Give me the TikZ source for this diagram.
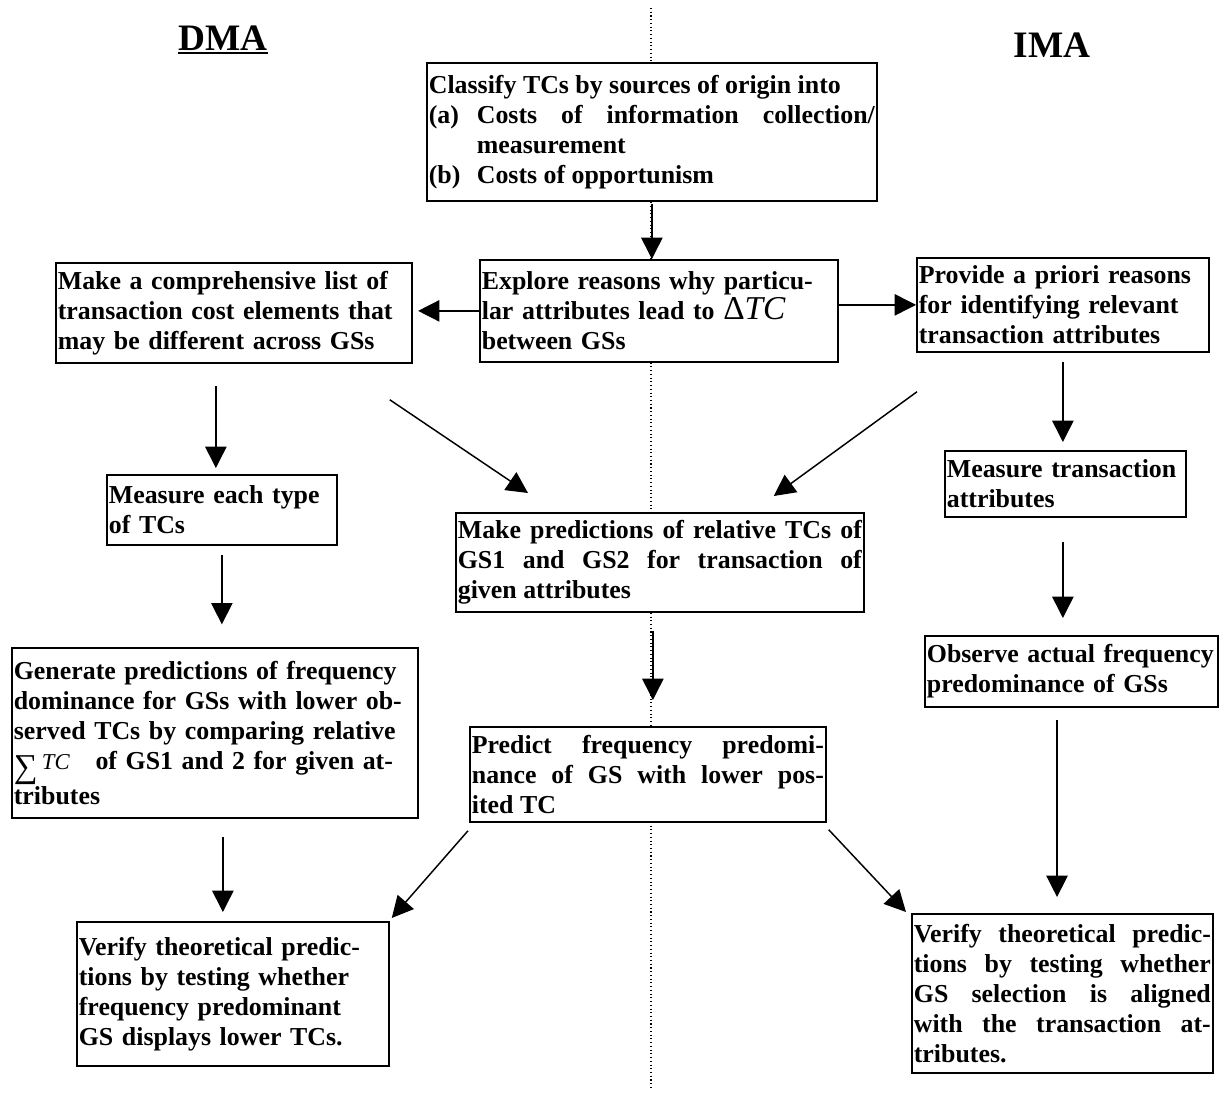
\documentclass[tikz,border=0pt]{standalone}
\usepackage{fontspec}
\setmainfont{Liberation Serif}
\usepackage{tikz}
\usetikzlibrary{arrows.meta,calc}
\hyphenpenalty=10000

\tikzset{
  box/.style={draw, fill=white, line width=1.3pt, anchor=north west, inner xsep=1.5pt, inner ysep=1.5pt, font=\fontsize{19.4}{22.5}\selectfont\bfseries},
  title/.style={anchor=base, inner sep=0pt, font=\fontsize{28}{30}\selectfont\bfseries},
  arr/.style={line width=1.1pt, -{Triangle[length=16pt,width=16pt]}},
}

\begin{document}
\begin{tikzpicture}[x=0.75pt,y=0.75pt,yscale=-1,xscale=1]
\useasboundingbox (0,0) rectangle (1227,1097);
% dividing line
\draw[dotted, line width=0.8pt] (651,8) -- (651,1090);

\node[title] (dma) at (223,50) {DMA};
\draw[line width=1.4pt] ([yshift=2.5pt]dma.base west) -- ([yshift=2.5pt]dma.base east);
\node[title] (ima) at (1052,57) {IMA};

% centre column
\node[box, text width=334.5pt, minimum height=103.5pt, align=justify] (classify) at (426,62) {Classify TCs by sources of origin into\par
\hangindent=36pt\hangafter=1\noindent\makebox[36pt][l]{(a)}Costs of information collection/\linebreak measurement\par
\hangindent=36pt\hangafter=1\noindent\makebox[36pt][l]{(b)}Costs of opportunism};
\node[box, text width=265.5pt, minimum height=76.5pt, align=left] (explore) at (479,259) {Explore reasons why particu-\\lar attributes lead to {\mdseries\fontsize{25}{22.5}\selectfont Δ\textit{TC}}\\between GSs};
\node[box, text width=303pt, minimum height=74.25pt, align=justify] (makepred) at (455,512) {Make predictions of relative TCs of\linebreak GS1 and GS2 for transaction of\linebreak given attributes};
\node[box, text width=264pt, minimum height=71.25pt, align=justify] (predict) at (469,726) {Predict frequency predomi-\linebreak nance of GS with lower pos-\linebreak ited TC};

% DMA column
\node[box, text width=264pt, minimum height=75pt, align=left] (complist) at (55,262) {Make a comprehensive list of\\transaction cost elements that\\may be different across GSs};
\node[box, text width=169.5pt, minimum height=52.5pt, align=left] (measeach) at (106,474) {Measure each type\\of TCs};
\node[box, text width=301.5pt, minimum height=127.5pt, align=left] (generate) at (11,647) {Generate predictions of frequency\\dominance for GSs with lower ob-\\served TCs by comparing relative\\{\mdseries\raisebox{-6pt}{\fontsize{25}{25}\selectfont ∑}\,{\fontsize{17}{20}\selectfont\itshape TC}}\ \ \ of GS1 and 2 for given at-\\tributes};
\node[box, text width=231pt, minimum height=108pt, align=left] (verifyL) at (76,921) {Verify theoretical predic-\\tions by testing whether\\frequency predominant\\GS displays lower TCs.\par\vspace{17pt}};

% IMA column
\node[box, text width=216pt, minimum height=70.5pt, align=left] (apriori) at (916,257) {Provide a priori reasons\\for identifying relevant\\transaction attributes};
\node[box, text width=177.75pt, minimum height=49.5pt, align=left] (meastr) at (944,450) {Measure transaction\\attributes};
\node[box, text width=216.75pt, minimum height=53.25pt, align=left] (observe) at (924,635) {Observe actual frequency\\predominance of GSs};
\node[box, text width=222.75pt, minimum height=119.25pt, align=justify] (verifyR) at (911,913) {Verify theoretical predic-\linebreak tions by testing whether\linebreak GS selection is aligned\linebreak with the transaction at-\linebreak tributes.};

% arrows
\draw[arr, shorten <=2pt] (classify.south) -- (classify.south |- explore.north);
\draw[arr, shorten >=4pt] (explore.west) -- (explore.west -| complist.east);
\draw[arr] (apriori.west -| explore.east) -- (apriori.west);

\draw[arr, shorten <=17pt, shorten >=4.5pt] ([xshift=-4.5pt]measeach.north |- complist.south) -- ([xshift=-4.5pt]measeach.north);
\draw[arr, shorten <=7pt, shorten >=17pt] (measeach.south) -- (measeach.south |- generate.north);
\draw[arr, shorten <=13.5pt, shorten >=6.75pt] ([xshift=6pt]generate.south) -- ([xshift=6pt]generate.south |- verifyL.north);

\draw[arr] ($(complist.south east)+(-23,36)$) -- ($(makepred.north west)+(73,-19)$);
\draw[arr] ($(apriori.south west)+(1,39)$) -- ($(makepred.north east)+(-91,-16)$);
\draw[arr, shorten <=14pt, shorten >=19.5pt] ([xshift=3.75pt]predict.north |- makepred.south) -- ([xshift=3.75pt]predict.north);
\draw[arr] ($(predict.south west)+(-1,8)$) -- ($(verifyL.north east)+(2,-3)$);
\draw[arr] ($(predict.south east)+(2,7)$) -- ($(verifyR.north west)+(-5,-1)$);

\draw[arr, shorten <=6.75pt, shorten >=6pt] (apriori.south) -- (apriori.south |- meastr.north);
\draw[arr, shorten <=18pt, shorten >=12.75pt] (meastr.south -| apriori.south) -- (apriori.south |- observe.north);
\draw[arr, shorten <=9pt, shorten >=12pt] ([xshift=-4pt]verifyR.north |- observe.south) -- ([xshift=-4pt]verifyR.north);
\end{tikzpicture}
\end{document}
